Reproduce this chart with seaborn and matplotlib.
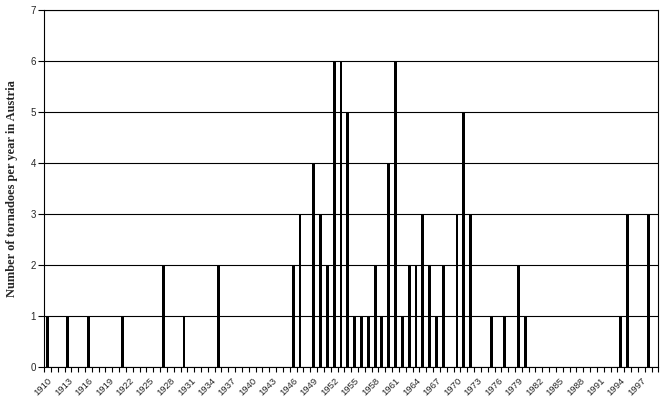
import matplotlib
matplotlib.use("Agg")
import matplotlib.pyplot as plt
import seaborn as sns
import pandas as pd
import numpy as np

years = list(range(1910, 2000))
event_years = [1910, 1913, 1916, 1921, 1927, 1930, 1935, 1946, 1947, 1949, 1950,
               1951, 1952, 1953, 1954, 1955, 1956, 1957, 1958, 1959, 1960, 1961,
               1962, 1963, 1964, 1965, 1966, 1967, 1968, 1970, 1971, 1972, 1975,
               1977, 1979, 1980, 1994, 1995, 1998]
event_counts = [1, 1, 1, 1, 2, 1, 2, 2, 3, 4, 3,
                2, 6, 6, 5, 1, 1, 1, 2, 1, 4, 6,
                1, 2, 2, 3, 2, 1, 2, 3, 5, 3, 1,
                1, 2, 1, 1, 3, 3]
tick_labels = [str(y) for y in range(1910, 2000, 3)]

counts = dict(zip(event_years, event_counts))
df = pd.DataFrame({"year": [str(y) for y in years],
                   "count": [counts.get(y, 0) for y in years]})

sns.set_style("white")
plt.rcParams["font.family"] = ["Liberation Sans", "DejaVu Sans"]

fig = plt.figure(figsize=(6.65, 4.05), dpi=100)
ax = fig.add_axes([0.0662, 0.0946, 0.9238, 0.8804])

sns.barplot(data=df, x="year", y="count", order=[str(y) for y in years],
            color="black", width=0.42, saturation=1, ax=ax, zorder=3,
            edgecolor="black", linewidth=0)

ax.set_xlim(-0.5, len(years) - 0.5)
ax.set_ylim(0, 7)
ax.set_yticks(range(0, 8))
ax.set_yticklabels([str(v) for v in range(0, 8)], fontsize=7)
ax.yaxis.grid(True, color="black", linewidth=0.8, zorder=1)
ax.set_axisbelow(True)

pos = [years.index(int(t)) for t in tick_labels]
ax.set_xticks(pos)
ax.set_xticklabels(tick_labels, rotation=45, ha="right", rotation_mode="anchor",
                   fontsize=6.8)
ax.set_xticks(np.arange(-0.5, len(years), 1), minor=True)
ax.tick_params(axis="x", which="major", length=0, pad=7)
ax.tick_params(axis="x", which="minor", length=3.5, width=0.8, direction="out",
               color="black", bottom=True)
ax.tick_params(axis="y", which="major", length=4, width=0.8, direction="out",
               color="black", left=True, pad=2)

for s in ax.spines.values():
    s.set_visible(True)
    s.set_color("black")
    s.set_linewidth(0.8)

ax.set_xlabel("")
ax.set_ylabel("Number of tornadoes per year in Austria", fontsize=9,
              fontweight="bold", family="Liberation Serif", labelpad=9)

fig.savefig("out.png", dpi=100)
